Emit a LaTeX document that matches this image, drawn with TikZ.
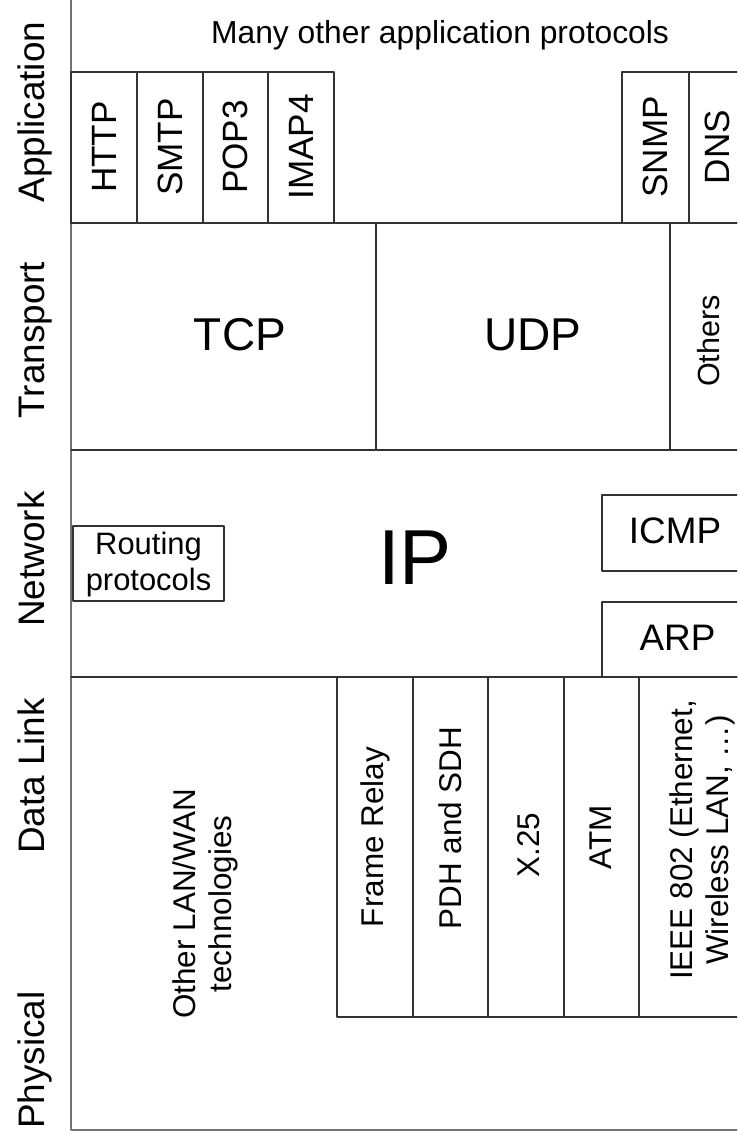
\documentclass[tikz,border=0pt]{standalone}
\usepackage{fontspec}
\setmainfont{Liberation Sans}
\begin{document}
\begin{tikzpicture}[x=0.02cm, y=-0.02cm, line cap=round, line join=round,
  rule/.style={draw=black!80, line width=0.6pt},
  frame/.style={draw=black!55, line width=0.8pt},
  layer/.style={rotate=90, anchor=base, inner sep=0pt, font=\fontsize{21}{24}\selectfont},
  proto/.style={rotate=90, inner sep=0pt, font=\fontsize{20}{23}\selectfont},
  linktxt/.style={rotate=90, align=center, inner sep=0pt, font=\fontsize{17.9}{20.5}\selectfont},
  bigtxt/.style={inner sep=0pt, font=\fontsize{26.2}{30}\selectfont},
  midtxt/.style={inner sep=0pt, font=\fontsize{21}{24}\selectfont}]
\clip (0,0) rectangle (737,1135);
    % 外框
\draw[frame] (71,0) -- (71,1130) -- (760,1130);
    % 应用层
\draw[rule] (71,72)  rectangle (137,223);
\draw[rule] (137,72) rectangle (203,223);
\draw[rule] (203,72) rectangle (268,223);
\draw[rule] (268,72) rectangle (334,223);
\draw[rule] (622,72) rectangle (689,223);
\draw[rule] (689,72) rectangle (760,223);
    % 传输层
\draw[rule] (71,223)  -- (760,223);
\draw[rule] (376,223) -- (376,450);
\draw[rule] (670,223) -- (670,450);
\draw[rule] (71,450)  -- (760,450);
    % 网络层
\draw[rule] (73,526)  rectangle (224,601);
\draw[rule] (602,495) rectangle (760,571);
\draw[rule] (602,602) rectangle (760,677);
\draw[rule] (71,677)  -- (760,677);
    % 数据链路层
\draw[rule] (337,677) rectangle (413,1017);
\draw[rule] (413,677) rectangle (488,1017);
\draw[rule] (488,677) rectangle (564,1017);
\draw[rule] (564,677) rectangle (639,1017);
\draw[rule] (639,677) rectangle (760,1017);
    % 层名
\node[layer] (lapp)   at (44,112)  {Application};
\node[layer] (ltrans) at (44,340)  {Transport};
\node[layer] (lnet)   at (44,559)  {Network};
\node[layer] (llink)  at (44,776)  {Data Link};
\node[layer] (lphy)   at (44,1060) {Physical};
    % 文字
\node[anchor=base, inner sep=0pt, font=\fontsize{18.1}{21}\selectfont] (many) at (440,43.3) {Many other application protocols};
\node[proto] (http) at (104,147)   {HTTP};
\node[proto] (smtp) at (170,147)   {SMTP};
\node[proto] (pop)  at (235.5,147) {POP3};
\node[proto] (imap) at (301,147)   {IMAP4};
\node[proto] (snmp) at (655.5,147) {SNMP};
\node[proto] (dns)  at (717,147)   {DNS};
\node[bigtxt] (tcp) at (240,335) {TCP};
\node[bigtxt] (udp) at (533,335) {UDP};
\node[rotate=90, inner sep=0pt, font=\fontsize{17.4}{20}\selectfont] (others) at (709,341) {Others};
\node[inner sep=0pt, font=\fontsize{44.4}{50}\selectfont] (ip) at (415,558) {IP};
\node[align=center, inner sep=0pt, font=\fontsize{17.6}{20.3}\selectfont] (rout) at (148.5,564.5) {Routing\\protocols};
\node[midtxt] (icmp) at (675,531)   {ICMP};
\node[midtxt] (arp)  at (677.5,638) {ARP};
\node[linktxt] (other) at (205,904)   {Other LAN/WAN\\technologies};
\node[linktxt] (frame) at (375,837)   {Frame Relay};
\node[linktxt] (pdh)   at (450,828)   {PDH and SDH};
\node[linktxt] (xtf)   at (528.7,845) {X.25};
\node[linktxt] (atm)   at (600.5,837) {ATM};
\node[linktxt] (ieee)  at (702,840)   {IEEE 802 (Ethernet,\\Wireless LAN, …)};
\end{tikzpicture}
\end{document}
